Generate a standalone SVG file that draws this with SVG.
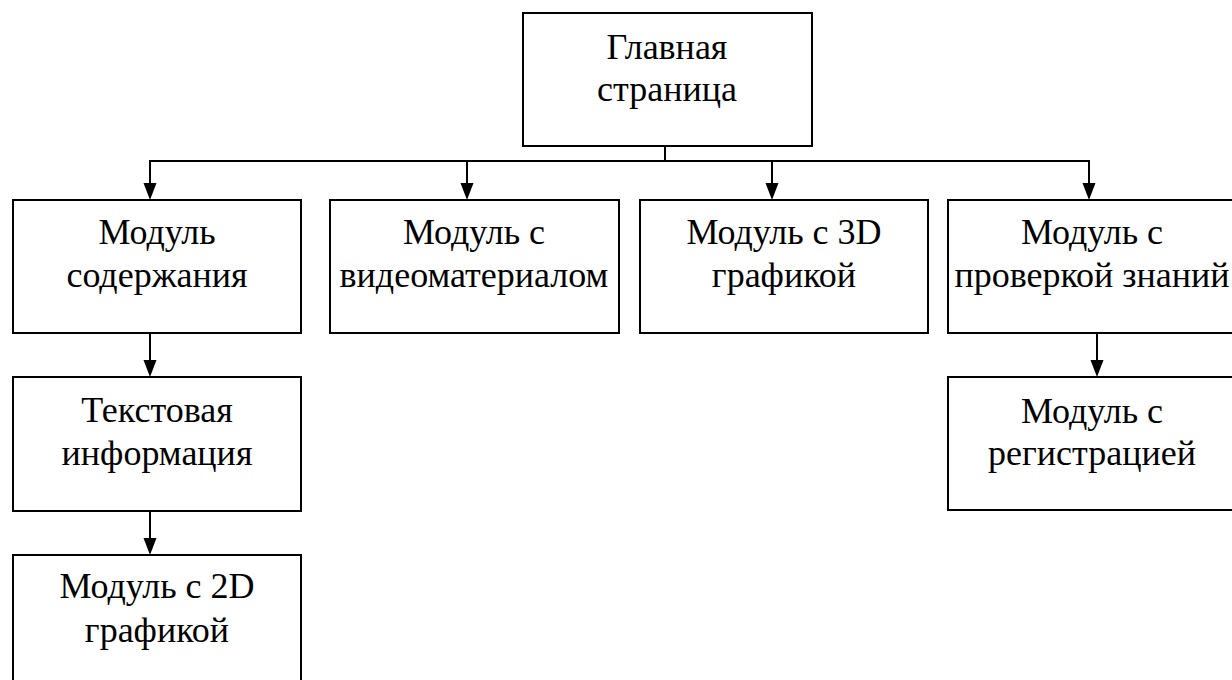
<svg xmlns="http://www.w3.org/2000/svg" width="1232" height="680" viewBox="0 0 1232 680">
<style>
.box{fill:#fff;stroke:#000;stroke-width:2}
.ln{fill:none;stroke:#000;stroke-width:2}
.t{font-family:'Liberation Serif','Times New Roman',serif;font-size:36px;fill:#000;text-anchor:middle}
</style>
<rect width="1232" height="680" fill="#fff"/>
<g id="connectors">
<line class="ln" x1="665" y1="146" x2="665" y2="161"/>
<line class="ln" x1="149" y1="161" x2="1090" y2="161"/>
<path class="ln" d="M150,161 V183"/>
<path d="M143.5,183 L156.5,183 L150,200 Z"/>
<path class="ln" d="M467,161 V183"/>
<path d="M460.5,183 L473.5,183 L467,200 Z"/>
<path class="ln" d="M772,161 V183"/>
<path d="M765.5,183 L778.5,183 L772,200 Z"/>
<path class="ln" d="M1089,161 V183"/>
<path d="M1082.5,183 L1095.5,183 L1089,200 Z"/>
<path class="ln" d="M150,333 V360"/>
<path d="M143.5,360 L156.5,360 L150,377 Z"/>
<path class="ln" d="M150,511 V538"/>
<path d="M143.5,538 L156.5,538 L150,555 Z"/>
<path class="ln" d="M1097,333 V360"/>
<path d="M1090.5,360 L1103.5,360 L1097,377 Z"/>
</g>
<g id="main">
<rect class="box" x="523" y="13" width="289" height="133"/>
<text class="t" font-family="Liberation Serif, serif" x="667" y="59">Главная</text>
<text class="t" font-family="Liberation Serif, serif" x="667" y="101">страница</text>
</g>
<g id="content">
<rect class="box" x="13" y="200" width="288" height="133"/>
<text class="t" x="157" y="244">Модуль</text>
<text class="t" x="157" y="287">содержания</text>
</g>
<g id="video">
<rect class="box" x="330" y="200" width="289" height="133"/>
<text class="t" x="474" y="244">Модуль с</text>
<text class="t" x="474" y="287">видеоматериалом</text>
</g>
<g id="graphics3d">
<rect class="box" x="640" y="200" width="288" height="133"/>
<text class="t" x="784" y="244">Модуль с 3D</text>
<text class="t" x="784" y="287">графикой</text>
</g>
<g id="test">
<rect class="box" x="948" y="200" width="289" height="133"/>
<text class="t" x="1092" y="244">Модуль с</text>
<text class="t" x="1092" y="287">проверкой знаний</text>
</g>
<g id="text-info">
<rect class="box" x="13" y="377" width="288" height="134"/>
<text class="t" x="157" y="422">Текстовая</text>
<text class="t" x="157" y="465">информация</text>
</g>
<g id="registration">
<rect class="box" x="948" y="377" width="289" height="133"/>
<text class="t" x="1092" y="423">Модуль с</text>
<text class="t" x="1092" y="465">регистрацией</text>
</g>
<g id="graphics2d">
<rect class="box" x="13" y="555" width="288" height="140"/>
<text class="t" x="157" y="598">Модуль с 2D</text>
<text class="t" x="157" y="642">графикой</text>
</g>
</svg>
